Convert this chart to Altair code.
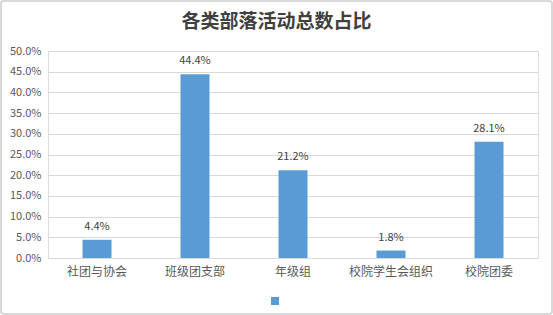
import altair as alt
import pandas as pd

title_text = "各类部落活动总数占比"
categories = ["社团与协会", "班级团支部", "年级组", "校院学生会组织", "校院团委"]
values = [0.044, 0.444, 0.212, 0.018, 0.281]
labels = ["4.4%", "44.4%", "21.2%", "1.8%", "28.1%"]
y_ticks = [0.0, 0.05, 0.1, 0.15, 0.2, 0.25, 0.3, 0.35, 0.4, 0.45, 0.5]

df = pd.DataFrame({"cat": categories, "val": values, "lab": labels, "series": [" "] * 5})

FONT = "Noto Sans CJK SC"
BLUE = "#5B9BD5"

x = alt.X("cat:N", sort=categories, title=None,
          scale=alt.Scale(paddingInner=0.7, paddingOuter=0.35),
          axis=alt.Axis(labelAngle=0, ticks=False, domainColor="#D9D9D9", labelColor="#595959",
                        labelFont=FONT, labelFontSize=12, labelPadding=8, grid=False))
y = alt.Y("val:Q", title=None,
          scale=alt.Scale(domain=[0, 0.5], nice=False),
          axis=alt.Axis(format=".1%", values=y_ticks, ticks=False, domain=False,
                        gridColor="#D9D9D9", labelColor="#595959", labelFont=FONT,
                        labelFontSize=11, labelPadding=7, labelOverlap=False))

base = alt.Chart(df).encode(x=x, y=y)

bars = base.mark_bar(size=29).encode(
    color=alt.Color("series:N", scale=alt.Scale(range=[BLUE]),
                    legend=alt.Legend(title=None, orient="none", legendX=223, legendY=246,
                                      symbolType="square", symbolSize=64, labelExpr="''",
                                      padding=0, symbolStrokeWidth=0, labelFontSize=1)),
)

text = base.mark_text(dy=-8, font=FONT, fontSize=11, color="#404040", baseline="bottom").encode(
    text="lab:N"
)

title = alt.Chart(pd.DataFrame({"t": [title_text]})).mark_text(
    font=FONT, fontSize=19, fontWeight="bold", color="#404040", baseline="middle", align="center"
).encode(x=alt.value(228.5), y=alt.value(-29), text="t:N")

border = alt.Chart(df).mark_rect(fill=None, stroke="#D9D9D9", strokeWidth=1.5, cornerRadius=3).encode(
    x=alt.value(-47), x2=alt.value(504), y=alt.value(-50), y2=alt.value(263)
)

chart = alt.layer(bars, text, title, border).properties(
    width=490, height=207,
    autosize=alt.AutoSizeParams(type="none"),
    padding={"left": 48, "top": 51, "right": 15, "bottom": 57},
).configure_view(stroke=None).configure(background="white")

chart.save("out.html", embed_options={"renderer": "svg", "actions": False})
